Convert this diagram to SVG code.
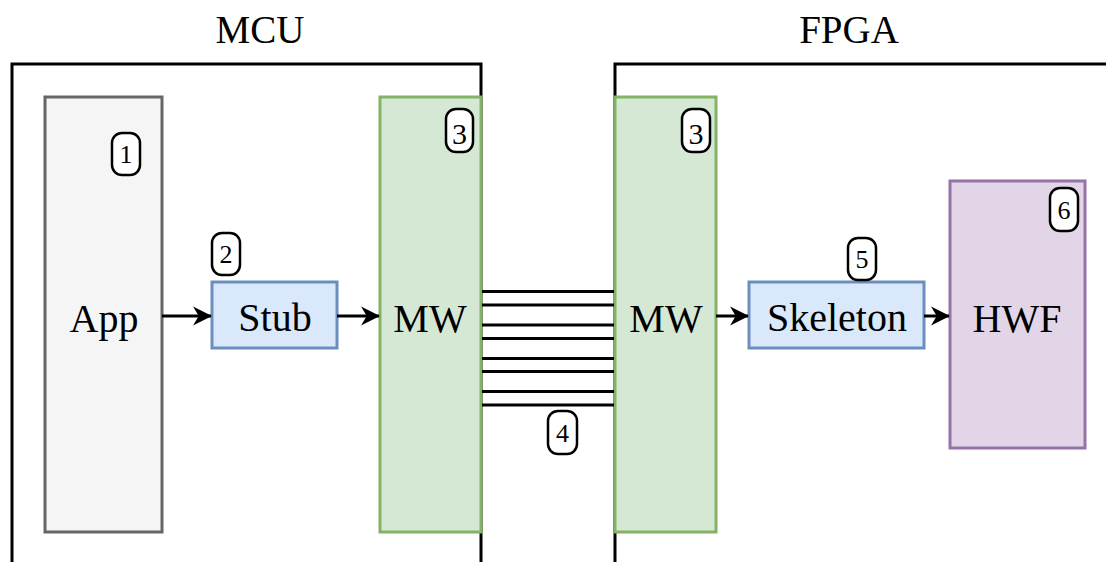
<svg xmlns="http://www.w3.org/2000/svg" width="1106" height="562" viewBox="0 0 1106 562">
<style>
.title{font-family:"Liberation Serif",serif;font-size:39px;fill:#000;text-anchor:middle}
.lbl{font-family:"Liberation Serif",serif;font-size:40px;fill:#000;text-anchor:middle}
.num{font-family:"Liberation Serif",serif;font-size:26px;fill:#000;text-anchor:middle}
.num3{font-family:"Liberation Serif",serif;font-size:30px;fill:#000;text-anchor:middle}
.badge{fill:#fff;stroke:#000;stroke-width:2.5}
.frame{fill:none;stroke:#000;stroke-width:3}
.gray{fill:#f5f5f5;stroke:#666;stroke-width:3}
.green{fill:#d5e8d4;stroke:#82b366;stroke-width:3}
.blue{fill:#dae8fc;stroke:#6c8ebf;stroke-width:3}
.purple{fill:#e1d5e7;stroke:#9673a6;stroke-width:3}
.edge{stroke:#000;stroke-width:3;fill:none}
.bus{stroke:#000;stroke-width:3}
</style>
<defs>
<marker id="arr" viewBox="0 0 10 10" refX="9.5" refY="5" markerWidth="6.3" markerHeight="6.6" markerUnits="strokeWidth" orient="auto">
<path d="M0,0 L10,5 L0,10 L3,5 Z" fill="#000"/>
</marker>
</defs>
<rect width="1106" height="562" fill="#fff"/>
<g id="mcu">
<path class="frame" d="M12,570 V64 H481 V570"/>
<text class="title" x="260" y="43">MCU</text>
</g>
<g id="fpga">
<path class="frame" d="M615,570 V64 H1115"/>
<text class="title" x="849" y="43">FPGA</text>
</g>
<g id="app">
<rect class="gray" x="45" y="97" width="117" height="435"/>
<text class="lbl" x="104" y="332">App</text>
<rect class="badge" x="112" y="133" width="28" height="42" rx="10"/>
<text class="num" x="126" y="163">1</text>
</g>
<g id="stub">
<rect class="blue" x="212" y="282" width="125" height="66"/>
<text class="lbl" x="275" y="331">Stub</text>
<rect class="badge" x="212" y="233" width="28" height="42" rx="10"/>
<text class="num" x="226" y="263">2</text>
</g>
<g id="mw-left">
<rect class="green" x="380" y="97" width="101" height="435"/>
<text class="lbl" x="430" y="332">MW</text>
<rect class="badge" x="446" y="109" width="27" height="43" rx="10"/>
<text class="num3" x="459.5" y="144">3</text>
</g>
<g id="mw-right">
<rect class="green" x="615" y="97" width="101" height="435"/>
<text class="lbl" x="666" y="332">MW</text>
<rect class="badge" x="682" y="109" width="28" height="43" rx="10"/>
<text class="num3" x="696" y="144">3</text>
</g>
<g id="skeleton">
<rect class="blue" x="749" y="282" width="175" height="66"/>
<text class="lbl" x="837" y="331">Skeleton</text>
<rect class="badge" x="848" y="238" width="28" height="42" rx="10"/>
<text class="num" x="862" y="268">5</text>
</g>
<g id="hwf">
<rect class="purple" x="950" y="181" width="135" height="267"/>
<text class="lbl" x="1017" y="332">HWF</text>
<rect class="badge" x="1050" y="188" width="28" height="43" rx="10"/>
<text class="num" x="1064" y="219">6</text>
</g>
<g id="bus-label">
<rect class="badge" x="548" y="411" width="29" height="43" rx="10"/>
<text class="num" x="562.5" y="442">4</text>
</g>
<g id="connectors">
<line class="edge" x1="162" y1="316" x2="211" y2="316" marker-end="url(#arr)"/>
<line class="edge" x1="337" y1="316" x2="379" y2="316" marker-end="url(#arr)"/>
<line class="edge" x1="716" y1="316" x2="748" y2="316" marker-end="url(#arr)"/>
<line class="edge" x1="924" y1="316" x2="949" y2="316" marker-end="url(#arr)"/>
<line class="bus" x1="482" y1="291.5" x2="614" y2="291.5"/>
<line class="bus" x1="482" y1="305" x2="614" y2="305"/>
<line class="bus" x1="482" y1="325" x2="614" y2="325"/>
<line class="bus" x1="482" y1="338.5" x2="614" y2="338.5"/>
<line class="bus" x1="482" y1="358.5" x2="614" y2="358.5"/>
<line class="bus" x1="482" y1="371.5" x2="614" y2="371.5"/>
<line class="bus" x1="482" y1="391.5" x2="614" y2="391.5"/>
<line class="bus" x1="482" y1="405" x2="614" y2="405"/>
</g>
</svg>
